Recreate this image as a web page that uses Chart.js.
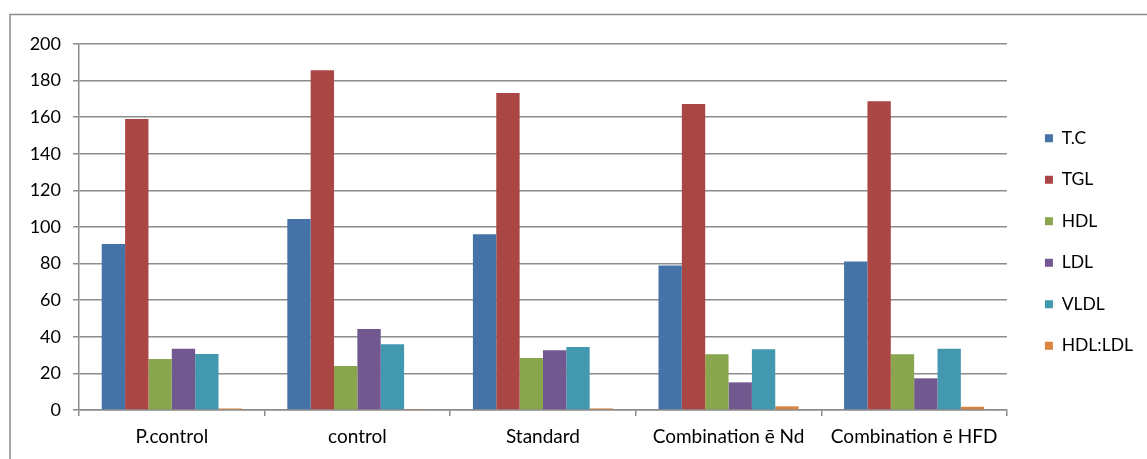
<!DOCTYPE html>
<html>
<head>
<meta charset="utf-8">
<script src="https://cdn.jsdelivr.net/npm/chart.js@4/dist/chart.umd.min.js"></script>
<style>
  html, body { margin: 0; padding: 0; background: #fff; }
  #wrap { position: relative; width: 1147px; height: 459px; }
</style>
</head>
<body>
<div id="wrap"><canvas id="c" width="1147" height="459"></canvas></div>
<script>
// Lipid profile per group (mg/dl) and HDL:LDL ratio
const groups = ['P.control', 'control', 'Standard', 'Combination ē Nd', 'Combination ē HFD'];
const tc     = [90.7, 104.4, 96.0, 78.9, 81.2];
const tgl    = [159.0, 185.6, 173.2, 167.2, 168.7];
const hdl    = [27.9, 24.0, 28.4, 30.4, 30.4];
const ldl    = [33.5, 44.3, 32.6, 15.1, 17.3];
const vldl   = [30.6, 35.9, 34.4, 33.2, 33.5];
const hdlLdl = [0.84, 0.54, 0.87, 2.01, 1.76];
const yTicks = [0, 20, 40, 60, 80, 100, 120, 140, 160, 180, 200];

const FONT = 'Lato, "Open Sans", sans-serif';
const GRID = '#8c8c8c';

const series = [
  ['T.C', tc, '#4572A7'],
  ['TGL', tgl, '#AA4643'],
  ['HDL', hdl, '#89A54E'],
  ['LDL', ldl, '#71588F'],
  ['VLDL', vldl, '#4198AF'],
  ['HDL:LDL', hdlLdl, '#DB843D']
];

// Thin frame along the top and left edges of the chart box
const framePlugin = {
  id: 'frame',
  beforeDraw(chart) {
    const ctx = chart.ctx;
    ctx.save();
    ctx.strokeStyle = '#8c8c8c';
    ctx.lineWidth = 1.5;
    ctx.beginPath();
    ctx.moveTo(10, chart.height);
    ctx.lineTo(10, 14.5);
    ctx.lineTo(chart.width, 14.5);
    ctx.stroke();
    ctx.restore();
  }
};

// Nudge the legend column away from the plot and slightly upward
const legendShift = {
  id: 'legendShift',
  afterLayout(chart) {
    const lg = chart.legend;
    if (!lg) return;
    lg.left += 14; lg.right += 14;
    lg.top -= 5; lg.bottom -= 5;
  }
};

const chart = new Chart(document.getElementById('c'), {
  type: 'bar',
  data: {
    labels: groups,
    datasets: series.map(([label, data, color]) => ({
      label, data,
      backgroundColor: color,
      borderWidth: 0,
      barPercentage: 1,
      categoryPercentage: 0.755
    }))
  },
  plugins: [framePlugin, legendShift],
  options: {
    responsive: false,
    animation: false,
    layout: { padding: { top: 44, right: 18, bottom: 9, left: 0 } },
    plugins: {
      legend: {
        position: 'right',
        labels: {
          boxWidth: 8, boxHeight: 8,
          padding: 24,
          color: '#000',
          font: { family: FONT, size: 17.5 }
        }
      },
      tooltip: { enabled: false }
    },
    scales: {
      x: {
        grid: { display: true, drawOnChartArea: false, drawTicks: true, tickLength: 6, color: GRID, lineWidth: 1.5, offset: true },
        border: { color: GRID, width: 1.5 },
        ticks: { color: '#000', font: { family: FONT, size: 19 }, padding: 9, maxRotation: 0, autoSkip: false },
        afterFit(s) { s.height = 40; }
      },
      y: {
        min: 0, max: 200,
        afterBuildTicks(s) { s.ticks = yTicks.map(v => ({ value: v })); },
        grid: { color: GRID, lineWidth: 1.5, drawTicks: true, tickLength: 6 },
        border: { color: GRID, width: 1.5 },
        ticks: { color: '#000', font: { family: FONT, size: 18 }, padding: 12 },
        afterFit(s) { s.width = 79; }
      }
    }
  }
});
</script>
</body>
</html>
